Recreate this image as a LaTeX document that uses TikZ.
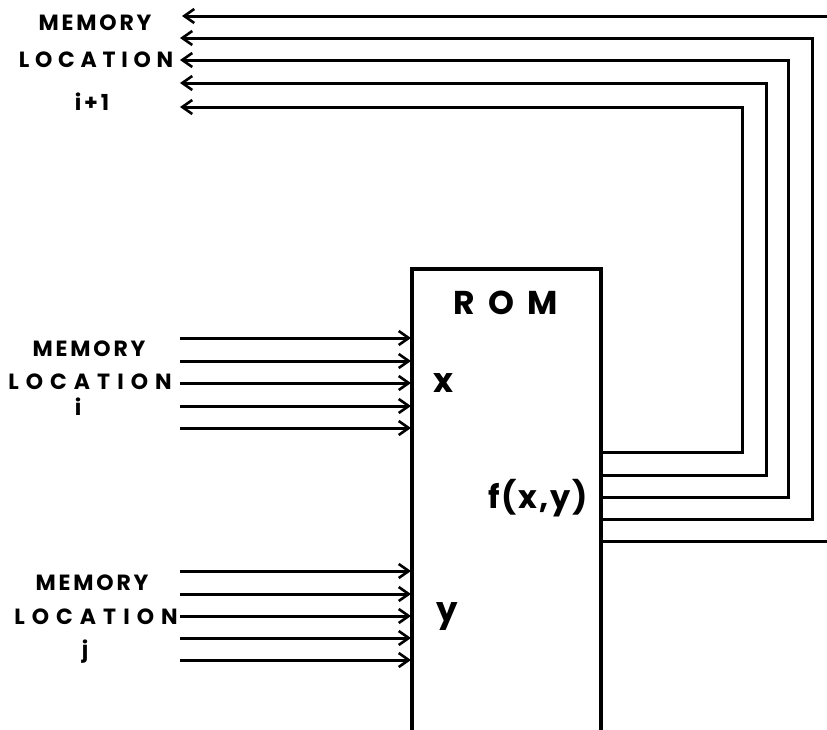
\documentclass[tikz,border=0pt]{standalone}
\usepackage{fontspec}
\setmainfont{Poppins}
\newfontfamily\lblfont[LetterSpace=13]{Poppins}
\newfontfamily\loctopfont[LetterSpace=26]{Poppins}
\newfontfamily\locfont[LetterSpace=32]{Poppins}
\newfontfamily\romfont[LetterSpace=40]{Poppins}
\newfontfamily\fxyfont[LetterSpace=6]{Poppins}
\usetikzlibrary{arrows.meta}
\begin{document}
\begin{tikzpicture}[x=1pt,y=-1pt,
  wire/.style={line width=3pt,line join=miter},
  arr/.style={wire,-{Straight Barb[length=10pt,width=14pt,line width=2.6pt]}},
  lbl/.style={font=\lblfont\bfseries\fontsize{22}{22}\selectfont,inner sep=0pt},
  loctop/.style={font=\loctopfont\bfseries\fontsize{22}{22}\selectfont,inner sep=0pt},
  loc/.style={font=\locfont\bfseries\fontsize{22}{22}\selectfont,inner sep=0pt},
  sym/.style={font=\bfseries\fontsize{34}{34}\selectfont,inner sep=0pt}]
\useasboundingbox (0,0) rectangle (827,729);
% ROM box (open at the bottom)
\coordinate (bl) at (412,740);
\coordinate (tl) at (412,269);
\coordinate (tr) at (601,269);
\coordinate (br) at (601,740);
\draw[line width=3.4pt,line join=miter] (bl) -- (tl) -- (tr) -- (br);
\node[inner sep=0pt,font=\romfont\bfseries\fontsize{33}{33}\selectfont] (rom) at (506,303) {ROM};
\node[sym] (xl) at (443,383) {x};
\node[sym] (yl) at (447,617) {y};
\node[inner sep=0pt,font=\fxyfont\bfseries\fontsize{32}{32}\selectfont] (f) at (538,498) {f(x,y)};
% left labels
\node[lbl] (m1) at (95,23) {MEMORY};
\node[loctop] (l1) at (96,60) {LOCATION};
\node[lbl] (i1) at (92,102) {i+1};
\node[lbl] (m2) at (89,349) {MEMORY};
\node[loc] (l2) at (90,382) {LOCATION};
\node[lbl] (i2) at (78,407) {i};
\node[lbl] (m3) at (92,583) {MEMORY};
\node[loc] (l3) at (96,617) {LOCATION};
\node[lbl] (j3) at (85,652) {j};
% input x
\foreach \k/\yy in {1/338,2/361,3/383,4/406,5/428}{
  \coordinate (xs\k) at (180,\yy);
  \coordinate (xe\k) at (411,\yy);
  \draw[arr] (xs\k) -- (xe\k);
}
% input y
\foreach \k/\yy in {1/571,2/594,3/616,4/638,5/660}{
  \coordinate (ys\k) at (180,\yy);
  \coordinate (ye\k) at (411,\yy);
  \draw[arr] (ys\k) -- (ye\k);
}
% outputs
\foreach \k/\oy/\vx/\ty in {1/452/742/107,2/475/766/83,3/497/788/60,4/519/812/38}{
  \coordinate (os\k) at (601,\oy);
  \coordinate (oc\k) at (\vx,\ty);
  \coordinate (ot\k) at (180,\ty);
  \draw[arr] (os\k) -| (oc\k) -- (ot\k);
}
\coordinate (os5) at (601,541);
\coordinate (oe5) at (830,541);
\draw[wire] (os5) -- (oe5);
\coordinate (os6) at (830,16);
\coordinate (ot6) at (182,16);
\draw[arr] (os6) -- (ot6);
\end{tikzpicture}
\end{document}
